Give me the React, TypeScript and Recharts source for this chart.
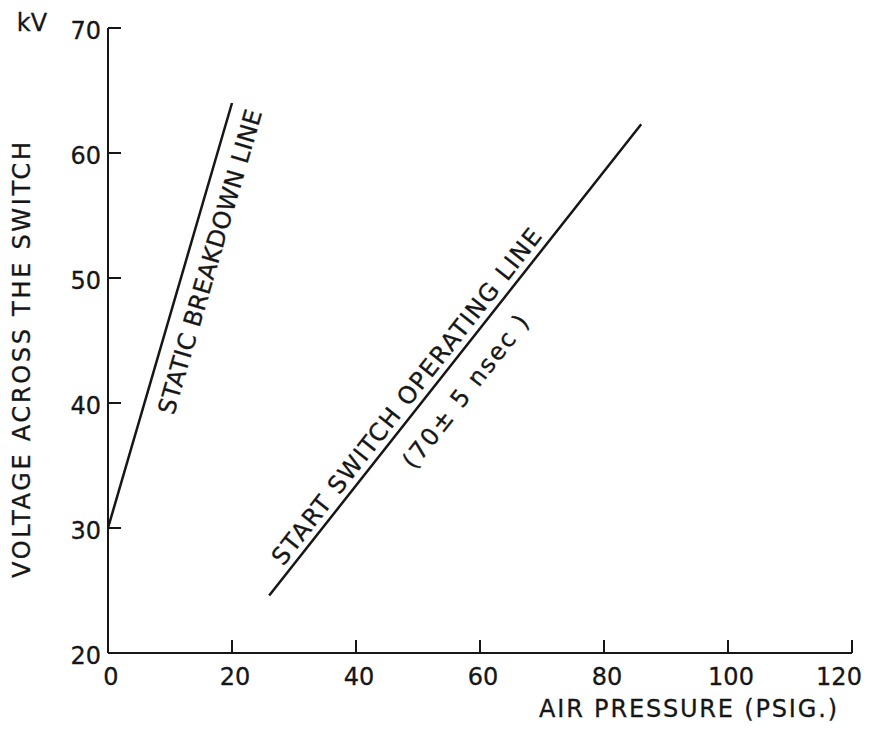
import React from "react";
import { LineChart, Line, XAxis, YAxis, ReferenceDot } from "recharts";

// Data
const xTicks = [0, 20, 40, 60, 80, 100, 120];
const yTicks = [20, 30, 40, 50, 60, 70];
const staticBreakdown = [
  { x: 0, y: 30 },
  { x: 20, y: 64 },
];
const startSwitch = [
  { x: 26, y: 24.6 },
  { x: 86, y: 62.3 },
];
const annotations = [
  { x: 16.5, y: 51.3, text: "STATIC  BREAKDOWN  LINE", angle: -73.7, len: 316, size: 24 },
  { x: 48.2, y: 40.5, text: "START  SWITCH  OPERATING  LINE", angle: -51.8, len: 420, size: 24 },
  { x: 57.7, y: 40.9, text: "(70± 5 nsec )", angle: -51.8, len: 188, size: 24 },
];

const INK = "#161616";
const FONT = "'DejaVu Sans', Lato, sans-serif";
const TEXT_STROKE = 0.3;

const YTick = (props: any) => {
  const { x, y, payload } = props;
  return (
    <g>
      {payload.value !== 20 && (
        <line x1={x} y1={y} x2={x + 13} y2={y} stroke={INK} strokeWidth={2} />
      )}
      <text
        x={x - 7}
        y={y + 3}
        textAnchor="end"
        dominantBaseline="central"
        fontFamily={FONT}
        fontSize={24}
        fill={INK}
        stroke={INK}
        strokeWidth={TEXT_STROKE}
      >
        {payload.value}
      </text>
    </g>
  );
};

const XTick = (props: any) => {
  const { x, y, payload } = props;
  return (
    <g>
      {payload.value !== 0 && (
        <line x1={x} y1={y} x2={x} y2={y - 13} stroke={INK} strokeWidth={2} />
      )}
      <text
        x={Math.min(x + 3, 831)}
        y={y + 24}
        textAnchor="middle"
        dominantBaseline="central"
        fontFamily={FONT}
        fontSize={24}
        fill={INK}
        stroke={INK}
        strokeWidth={TEXT_STROKE}
      >
        {payload.value}
      </text>
    </g>
  );
};

const makeAnnotation = (a: any) => (props: any) => {
  const { cx, cy } = props;
  return (
    <text
      x={cx}
      y={cy}
      textAnchor="middle"
      dominantBaseline="central"
      fontFamily={FONT}
      fontSize={a.size}
      fill={INK}
      stroke={INK}
      strokeWidth={TEXT_STROKE}
      textLength={a.len}
      lengthAdjust="spacing"
      transform={`rotate(${a.angle} ${cx} ${cy})`}
    >
      {a.text}
    </text>
  );
};

export default function App() {
  return (
    <div style={{ background: "#fff" }}>
      <LineChart
        width={862}
        height={717}
        margin={{ top: 20, right: 18, bottom: 32, left: 40 }}
      >
        <XAxis
          type="number"
          dataKey="x"
          domain={[0, 120]}
          ticks={xTicks}
          allowDataOverflow
          height={40}
          tickLine={false}
          tickSize={0}
          tickMargin={0}
          axisLine={{ stroke: INK, strokeWidth: 2 }}
          tick={XTick}
          label={(p: any) => {
            const vb = p.viewBox || {};
            return (
              <text
                x={(vb.x ?? 100) + 580}
                y={(vb.y ?? 645) + 56}
                textAnchor="middle"
                dominantBaseline="central"
                fontFamily={FONT}
                fontSize={24}
                fill={INK}
                stroke={INK}
                strokeWidth={TEXT_STROKE}
                textLength={298}
                lengthAdjust="spacing"
              >
                AIR  PRESSURE  (PSIG.)
              </text>
            );
          }}
        />
        <YAxis
          type="number"
          domain={[20, 70]}
          ticks={yTicks}
          allowDataOverflow
          width={60}
          tickLine={false}
          tickSize={0}
          tickMargin={0}
          axisLine={{ stroke: INK, strokeWidth: 2 }}
          tick={YTick}
          label={(p: any) => {
            const vb = p.viewBox || {};
            const cx = (vb.x ?? 40) - 26;
            const cy = (vb.y ?? 20) + 332;
            return (
              <g>
                <text
                  x={cx}
                  y={cy}
                  textAnchor="middle"
                  dominantBaseline="central"
                  fontFamily={FONT}
                  fontSize={24}
                  fill={INK}
                  stroke={INK}
                  strokeWidth={TEXT_STROKE}
                  textLength={436}
                  lengthAdjust="spacing"
                  transform={`rotate(-90 ${cx} ${cy})`}
                >
                  VOLTAGE  ACROSS  THE  SWITCH
                </text>
                <text
                  x={(vb.x ?? 40) - 16}
                  y={(vb.y ?? 20) - 5}
                  textAnchor="middle"
                  dominantBaseline="central"
                  fontFamily={FONT}
                  fontSize={24}
                  fill={INK}
                  stroke={INK}
                  strokeWidth={TEXT_STROKE}
                >
                  kV
                </text>
              </g>
            );
          }}
        />
        <Line
          data={staticBreakdown}
          dataKey="y"
          stroke={INK}
          strokeWidth={2.5}
          dot={false}
          isAnimationActive={false}
        />
        <Line
          data={startSwitch}
          dataKey="y"
          stroke={INK}
          strokeWidth={2.5}
          dot={false}
          isAnimationActive={false}
        />
        {annotations.map((a, i) => (
          <ReferenceDot
            key={i}
            x={a.x}
            y={a.y}
            r={0}
            ifOverflow="visible"
            shape={makeAnnotation(a)}
          />
        ))}
      </LineChart>
    </div>
  );
}
